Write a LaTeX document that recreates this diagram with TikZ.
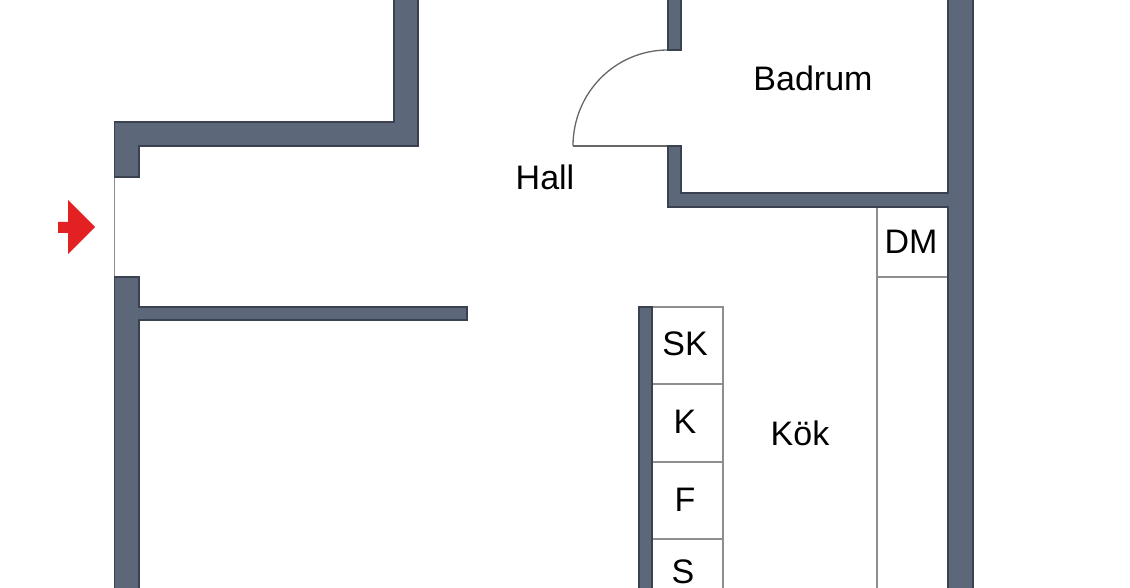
\documentclass[tikz,border=0pt]{standalone}
\usepackage{fontspec}
\setmainfont{Liberation Sans}
\definecolor{wallfill}{HTML}{5C677A}
\definecolor{walledge}{HTML}{3A4150}
\definecolor{fixline}{HTML}{8E8E8E}
\definecolor{entryred}{HTML}{E32022}
\tikzset{
  wall/.style={fill=wallfill,draw=walledge,line width=1.2pt,line join=miter},
  fixture/.style={draw=fixline,line width=1.8pt},
  doorline/.style={draw=black!60,line width=1.3pt},
  lbl/.style={font=\fontsize{34}{37}\selectfont,text=black,inner sep=0pt,anchor=center}
}
\begin{document}
\begin{tikzpicture}[x=1pt,y=-1pt]
\useasboundingbox (0,0) rectangle (1130,588);
\begin{scope}
\clip (0,0) rectangle (1130,588);
% fixtures
\draw[fixture] (877,207) -- (877,600);
\draw[fixture] (877,277) -- (948,277);
\draw[fixture] (640,307) -- (723,307) -- (723,600);
\draw[fixture] (652,384) -- (723,384);
\draw[fixture] (652,462) -- (723,462);
\draw[fixture] (652,539) -- (723,539);
% doors
\draw[fixture] (114.5,177) -- (114.5,277);
\draw[doorline] (668,146) -- (573,146);
\draw[doorline] (573,146) .. controls (573,93) and (615,50) .. (668,50);
% walls
\draw[wall] (394,-5) -- (394,122) -- (114.5,122) -- (114.5,177) -- (139,177) -- (139,146) -- (418,146) -- (418,-5) -- cycle;
\draw[wall] (114.5,600) -- (114.5,277) -- (139,277) -- (139,307) -- (467,307) -- (467,320) -- (139,320) -- (139,600) -- cycle;
\draw[wall] (668,-5) -- (668,50) -- (681,50) -- (681,-5) -- cycle;
\draw[wall] (668,146) -- (681,146) -- (681,193) -- (948,193) -- (948,-5) -- (973,-5) -- (973,600) -- (948,600) -- (948,207) -- (668,207) -- cycle;
\draw[wall] (639,307) -- (652,307) -- (652,600) -- (639,600) -- cycle;
% entrance arrow
\fill[entryred] (58,222) -- (68,222) -- (68,200) -- (95,227) -- (68,254) -- (68,233) -- (58,233) -- cycle;
\end{scope}
% labels
\node[lbl] (badrum) at (813,78) {Badrum};
\node[lbl] (hall) at (545,177) {Hall};
\node[lbl] (dm) at (911,242) {DM};
\node[lbl] (sk) at (685,344) {SK};
\node[lbl] (k) at (685,422) {K};
\node[lbl] (f) at (685,500) {F};
\node[lbl] (s) at (683,572) {S};
\node[lbl] (kok) at (800,433) {Kök};
\end{tikzpicture}
\end{document}
